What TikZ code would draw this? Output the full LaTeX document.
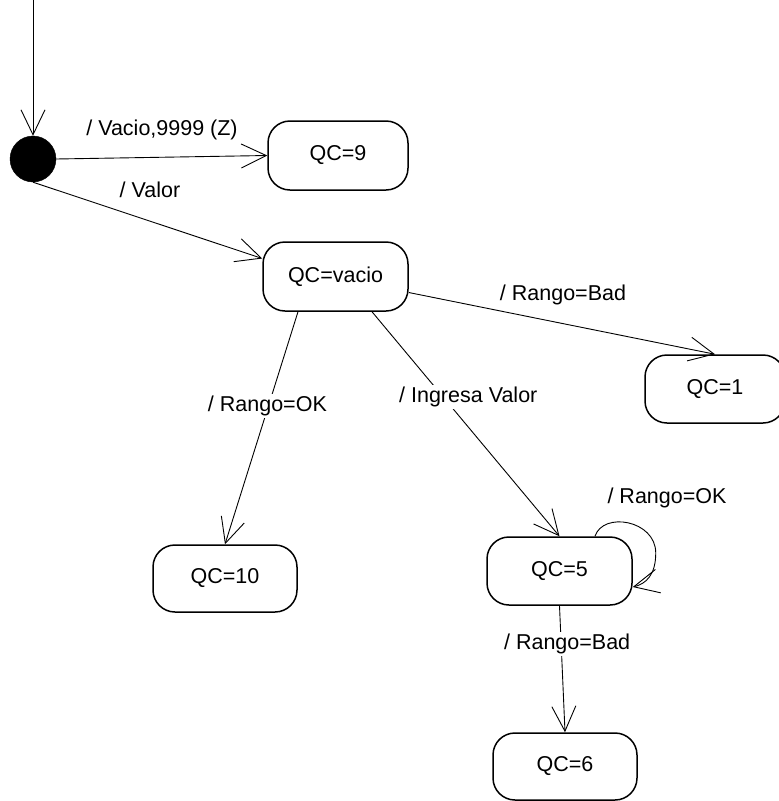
\documentclass[tikz,border=0pt]{standalone}
\usepackage{fontspec}
\setmainfont{Liberation Sans}
\usetikzlibrary{arrows.meta,calc}
\begin{document}
\begin{tikzpicture}[x=1pt,y=-1pt,
  font=\fontsize{21.5}{25}\selectfont,
  state/.style={draw, line width=1.5pt, rounded corners=22pt, inner sep=0pt},
  initial/.style={circle, fill=black, draw=black, minimum size=46pt, inner sep=0pt},
  trans/.style={line width=0.9pt, -{Straight Barb[length=25pt,width=24pt,line width=0.9pt]}},
  lbl/.style={inner sep=2pt, fill=white}]
\useasboundingbox (0,0) rectangle (779,801);

% initial pseudo-state and entry point
\coordinate (top) at (33,0);
\node[initial] (init) at (33,159) {};

% states
\node[state, minimum width=140pt, minimum height=69pt] (q9)  at (338,155.5) {QC=9};
\node[state, minimum width=145pt, minimum height=69pt] (qv)  at (335.5,276.5) {QC=vacio};
\node[state, minimum width=140pt, minimum height=68pt] (q1)  at (715,389) {QC=1};
\node[state, minimum width=144pt, minimum height=67pt] (q10) at (225,578.5) {QC=10};
\node[state, minimum width=145pt, minimum height=68pt] (q5)  at (559.5,571) {QC=5};
\node[state, minimum width=144pt, minimum height=67pt] (q6)  at (565,766.5) {QC=6};

% transitions
\draw[trans] (top) -- (init);
\draw[trans] (init.east) -- (q9.west);
\draw[trans] (init.south) -- ($(qv.west)+(0,-18)$);
\draw[trans] ($(qv.east)+(0,16)$) -- (q1.north);
\draw[trans] ($(qv.south)+(-37.5,0)$) -- node[lbl,pos=0.405,xshift=-1pt] (lok10) {/ Rango=OK} (q10.north);
\draw[trans] ($(qv.south)+(36.5,0)$) -- node[lbl,pos=0.38,xshift=25pt] (ling) {/ Ingresa Valor} (q5.north);
\draw[trans] ($(q5.north)+(35.5,0)$)
  .. controls ($(q5.north)+(43.5,-25)$) and ($(q5.east)+(23,-51)$) .. ($(q5.east)+(23,-18)$)
  .. controls ($(q5.east)+(23,4)$) and ($(q5.east)+(13,13)$) .. ($(q5.east)+(0,16)$);
\draw[trans] (q5.south) -- node[lbl,pos=0.3,xshift=6pt] (lbad6) {/ Rango=Bad} (q6.north);

% labels placed beside their transitions
\node (lz)   at (162,130) {/ Vacio,9999 (Z)};
\node (lval) at (150,190) {/ Valor};
\node (lbad) at (563,295) {/ Rango=Bad};
\node (lok5) at (667,498) {/ Rango=OK};
\end{tikzpicture}
\end{document}
